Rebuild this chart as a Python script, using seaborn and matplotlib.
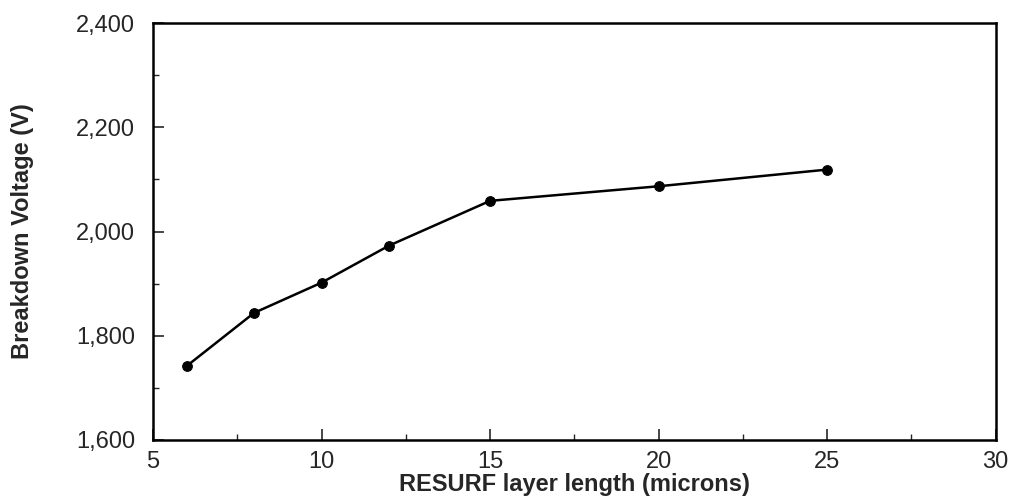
import pandas as pd
import matplotlib.pyplot as plt
from matplotlib.ticker import FuncFormatter, MultipleLocator
import seaborn as sns

layer_length = [6, 8, 10, 12, 15, 20, 25]
breakdown_v = [1742, 1844, 1902, 1973, 2059, 2087, 2119]

df = pd.DataFrame({"length": layer_length, "voltage": breakdown_v})

sns.set_style("ticks")
plt.rcParams["font.family"] = ["Liberation Sans", "DejaVu Sans"]

fig = plt.figure(figsize=(10.16, 5.04), dpi=100)
ax = fig.add_axes([0.1506, 0.127, 0.8294, 0.827])

sns.lineplot(
    data=df, x="length", y="voltage", ax=ax, color="black",
    linewidth=1.8, marker="o", markersize=7, markeredgecolor="black",
)

ax.set_xlim(5, 30)
ax.set_ylim(1600, 2400)
ax.xaxis.set_major_locator(MultipleLocator(5))
ax.xaxis.set_minor_locator(MultipleLocator(2.5))
ax.yaxis.set_major_locator(MultipleLocator(200))
ax.yaxis.set_minor_locator(MultipleLocator(100))
ax.yaxis.set_major_formatter(FuncFormatter(lambda v, p: f"{int(v):,}"))

ax.tick_params(axis="both", which="major", direction="in", length=8, width=1.2,
               labelsize=17)
ax.tick_params(axis="y", which="major", pad=13)
ax.tick_params(axis="x", which="major", pad=8)
ax.tick_params(axis="both", which="minor", direction="in", length=4, width=1)
for s in ax.spines.values():
    s.set_linewidth(1.8)
    s.set_color("black")

ax.set_xlabel("RESURF layer length (microns)", fontsize=17, fontweight="bold", labelpad=0)
ax.set_ylabel("Breakdown Voltage (V)", fontsize=17, fontweight="bold", labelpad=30)

fig.savefig("out.png", dpi=100)
